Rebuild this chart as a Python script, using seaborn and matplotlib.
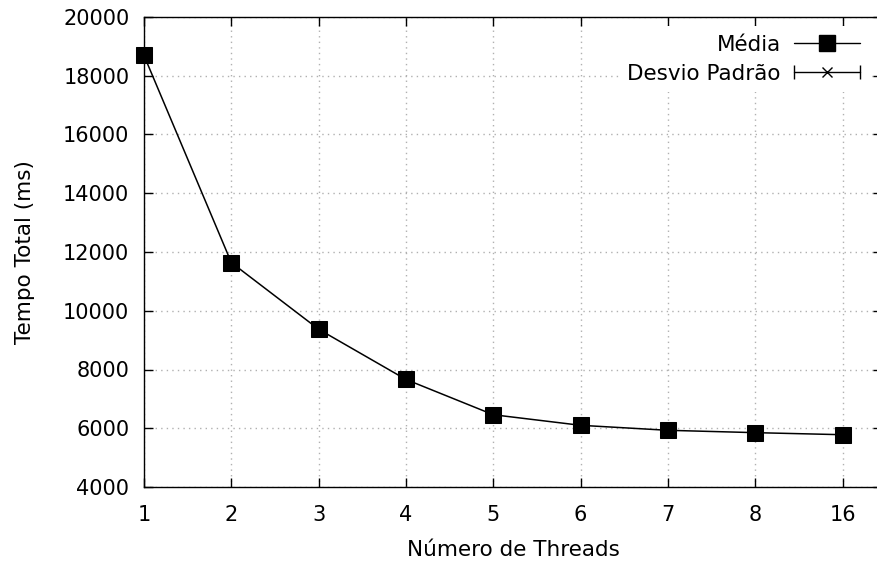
import numpy as np
import pandas as pd
import seaborn as sns
import matplotlib.pyplot as plt
from matplotlib.lines import Line2D
from matplotlib.legend_handler import HandlerLine2D, HandlerTuple

# valores
threads = ['1', '2', '3', '4', '5', '6', '7', '8', '16']
media = [18690, 11640, 9370, 7660, 6460, 6100, 5930, 5850, 5780]
desvio = [120, 90, 70, 60, 50, 40, 35, 35, 30]

sns.set_style('ticks')
plt.rcParams['font.family'] = ['DejaVu Sans']
plt.rcParams['text.color'] = 'black'
plt.rcParams['axes.labelcolor'] = 'black'
plt.rcParams['xtick.color'] = 'black'
plt.rcParams['ytick.color'] = 'black'

df = pd.DataFrame({'pos': np.arange(len(threads)), 'media': media, 'desvio': desvio})

fig = plt.figure(figsize=(8.78, 5.72), dpi=100)
ax = fig.add_axes([144 / 878, 1 - 487 / 572, 738 / 878, 470 / 572])

# desvio padrao (fica quase todo escondido pelos quadrados)
eb = ax.errorbar(df['pos'], df['media'], yerr=df['desvio'], fmt='x', color='black',
                 ecolor='black', elinewidth=1, capsize=4, markersize=7, zorder=2)
sns.lineplot(data=df, x='pos', y='media', ax=ax, color='black', linewidth=1.1,
             marker='s', markersize=11, markeredgecolor='black', zorder=3)
for ln in ax.lines:
    ln.set_clip_on(False)

ax.set_xlim(0, 8.45)
ax.set_ylim(4000, 20000)
ax.set_xticks(df['pos'])
ax.set_xticklabels(threads)
ax.set_yticks(np.arange(4000, 20001, 2000))
ax.tick_params(direction='in', top=True, right=True, length=6.5, width=1,
               labelsize=15)
ax.tick_params(axis='x', pad=13)
ax.tick_params(axis='y', pad=10.5)
for s in ax.spines.values():
    s.set_linewidth(1)
    s.set_color('black')
ax.grid(True, color='#b0b0b0', linestyle=(0, (1, 3)), linewidth=1)
ax.set_axisbelow(True)

ax.set_xlabel('Número de Threads', fontsize=15.5, labelpad=11)
ax.set_ylabel('Tempo Total (ms)', fontsize=15.5, labelpad=20)

h_media = Line2D([], [], color='black', lw=1, marker='s', markersize=11)
h_line = Line2D([], [], color='black', lw=1, marker='x', markersize=7)
h_caps = Line2D([], [], color='black', lw=0, marker='|', markersize=10, markeredgewidth=1)
leg = ax.legend([h_media, (h_line, h_caps)], ['Média', 'Desvio Padrão'],
                handler_map={h_caps: HandlerLine2D(numpoints=2, marker_pad=0),
                             tuple: HandlerTuple(ndivide=1)},
                loc='upper right', bbox_to_anchor=(869 / 878, 1 - 26 / 572),
                bbox_transform=fig.transFigure, markerfirst=False,
                handlelength=3.1, handletextpad=0.6, labelspacing=0.42,
                borderpad=0.4, borderaxespad=0, fontsize=15.5,
                frameon=True, fancybox=False, framealpha=1,
                facecolor='white', edgecolor='none')

fig.savefig('out.png', dpi=100)
